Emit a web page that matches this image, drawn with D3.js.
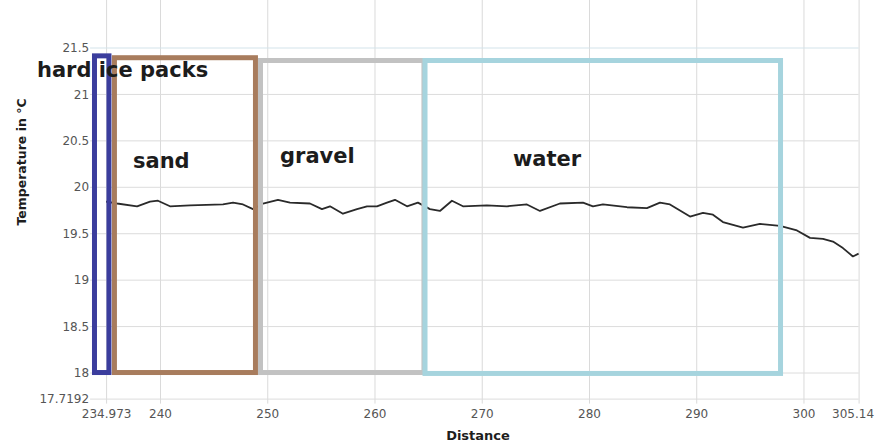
<!DOCTYPE html>
<html>
<head>
<meta charset="utf-8">
<script src="https://cdn.jsdelivr.net/npm/d3@7/dist/d3.min.js"></script>
<style>
  html, body { margin: 0; padding: 0; background: #ffffff; }
  svg { display: block; }
</style>
</head>
<body>
<svg id="chart" width="882" height="444"></svg>
<script>
// Temperature profile along the cable (distance in m, temperature in °C)
const distance = [
  234.973, 236.0, 237.86, 239.07, 239.81, 240.93, 242.8, 245.87, 246.81, 247.74,
  248.67, 249.6, 251.0, 252.12, 253.98, 255.1, 255.85, 257.06, 258.37, 259.3,
  260.23, 261.16, 261.91, 263.03, 264.05, 265.17, 266.1, 267.22, 268.25, 270.48,
  272.35, 274.21, 275.43, 277.29, 279.44, 280.37, 281.3, 283.54, 285.4, 286.62,
  287.55, 289.42, 290.63, 291.56, 292.49, 294.36, 295.94, 297.81, 299.39, 300.61,
  301.82, 302.75, 303.68, 304.61, 305.14
];
const temperature = [
  19.84, 19.82, 19.79, 19.84, 19.85, 19.79, 19.80, 19.81, 19.83, 19.81,
  19.76, 19.82, 19.86, 19.83, 19.82, 19.76, 19.79, 19.71, 19.76, 19.79,
  19.79, 19.83, 19.86, 19.79, 19.83, 19.76, 19.74, 19.85, 19.79, 19.80,
  19.79, 19.81, 19.74, 19.82, 19.83, 19.79, 19.81, 19.78, 19.77, 19.83,
  19.81, 19.68, 19.72, 19.70, 19.62, 19.56, 19.60, 19.58, 19.53, 19.45,
  19.44, 19.41, 19.34, 19.25, 19.28
];

// Axis ticks
const xTicks = [234.973, 240, 250, 260, 270, 280, 290, 300, 305.14];
const yTicks = [17.7192, 18, 18.5, 19, 19.5, 20, 20.5, 21, 21.5];

// Ground zones along the profile (extent in distance and temperature units)
const zoneNames  = ["hard ice packs", "sand", "gravel", "water"];
const zoneFrom   = [233.89, 235.75, 249.37, 264.71];
const zoneTo     = [235.24, 248.90, 264.61, 297.86];
const zoneTop    = [21.41, 21.39, 21.36, 21.36];
const zoneBottom = [18.0, 18.0, 18.0, 17.99];
// Where each zone name is written (distance, temperature)
const zoneLabelX = [228.53, 237.48, 251.19, 272.91];
const zoneLabelY = [21.177, 20.202, 20.256, 20.224];

const zoneColors = ["#3b3d9d", "#a87c5d", "#c2c2c2", "#a6d4de"];

const svg = d3.select("#chart");
const W = 882, H = 444;
const plot = { left: 106.1, right: 858.6, top: 1.07, bottom: 398.6 };

svg.append("rect").attr("width", W).attr("height", H).attr("fill", "#ffffff");

const x = d3.scaleLinear().domain([234.973, 305.14]).range([plot.left, plot.right]);
const y = d3.scaleLinear().domain([17.7192, 22]).range([plot.bottom, plot.top]);

const tickFont = "DejaVu Sans, Verdana, sans-serif";

// X axis with full-height grid lines
const gx = svg.append("g")
  .attr("transform", `translate(0,${plot.bottom})`)
  .call(d3.axisBottom(x).tickValues(xTicks).tickFormat(d => String(d)).tickSize(0).tickPadding(0));
gx.select(".domain").remove();
gx.selectAll(".tick line")
  .attr("y1", -plot.bottom).attr("y2", 5)
  .attr("stroke", "#dadada").attr("stroke-width", 1);
gx.selectAll(".tick text")
  .attr("y", 19.5).attr("dy", 0)
  .attr("fill", "#555555")
  .style("font-family", tickFont).style("font-size", "12px");
gx.selectAll(".tick text").filter(d => d === 305.14).attr("dx", -6);

// Y axis with grid lines across the plot
const gy = svg.append("g")
  .attr("transform", `translate(${plot.left},0)`)
  .call(d3.axisLeft(y).tickValues(yTicks).tickFormat(d => String(d)).tickSize(0).tickPadding(0));
gy.select(".domain").remove();
gy.selectAll(".tick line")
  .attr("x1", -16).attr("x2", plot.right - plot.left)
  .attr("stroke", d => d === 21.5 ? "#d3e3ea" : "#dcdcdc").attr("stroke-width", 1);
gy.selectAll(".tick text")
  .attr("x", -17).attr("dy", "0.34em")
  .attr("fill", "#555555")
  .style("font-family", tickFont).style("font-size", "12px");

// Axis titles
svg.append("text")
  .attr("x", 478).attr("y", 440)
  .attr("text-anchor", "middle")
  .attr("fill", "#1e1e1e")
  .style("font-family", tickFont).style("font-size", "13px").style("font-weight", "bold")
  .text("Distance");

svg.append("text")
  .attr("transform", "translate(26,162) rotate(-90)")
  .attr("text-anchor", "middle")
  .attr("fill", "#1e1e1e")
  .style("font-family", tickFont).style("font-size", "12.5px").style("font-weight", "bold")
  .text("Temperature in °C");

// Temperature line
const line = d3.line().x(d => x(d[0])).y(d => y(d[1])).curve(d3.curveLinear);
svg.append("path")
  .datum(d3.zip(distance, temperature))
  .attr("d", line)
  .attr("fill", "none")
  .attr("stroke", "#2a2a2a")
  .attr("stroke-width", 1.8)
  .attr("stroke-linejoin", "round");

// Zone frames
svg.append("g").selectAll("rect")
  .data(zoneNames)
  .join("rect")
  .attr("x", (d, i) => x(zoneFrom[i]))
  .attr("y", (d, i) => y(zoneTop[i]))
  .attr("width", (d, i) => x(zoneTo[i]) - x(zoneFrom[i]))
  .attr("height", (d, i) => y(zoneBottom[i]) - y(zoneTop[i]))
  .attr("fill", "none")
  .attr("stroke", (d, i) => zoneColors[i])
  .attr("stroke-width", 5);

// Zone names
svg.append("g").selectAll("text")
  .data(zoneNames)
  .join("text")
  .attr("x", (d, i) => x(zoneLabelX[i]))
  .attr("y", (d, i) => y(zoneLabelY[i]))
  .attr("fill", "#1c1c1c")
  .style("font-family", "DejaVu Sans, sans-serif")
  .style("font-size", "21px")
  .style("font-weight", "bold")
  .text(d => d);
</script>
</body>
</html>
